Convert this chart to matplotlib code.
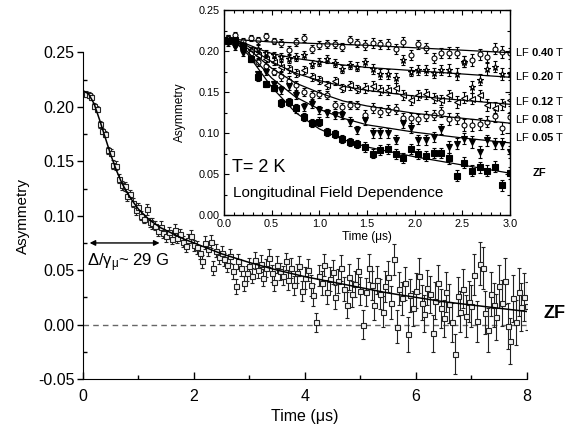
#!/usr/bin/env python3
"""Zero-field muSR asymmetry with an inset of the longitudinal field dependence at T = 2 K."""

import numpy as np
import matplotlib
matplotlib.use("Agg")
import matplotlib.pyplot as plt
from matplotlib.ticker import MultipleLocator, FormatStrFormatter

# ---- main panel: ZF asymmetry, one point every 0.05 us ----
zf_time = np.round(np.arange(1, 161) * 0.05, 2)
zf_asym = [
    0.212, 0.211, 0.209, 0.201, 0.198, 0.184, 0.178, 0.175, 0.160, 0.158,
    0.147, 0.146, 0.134, 0.128, 0.127, 0.118, 0.120, 0.112, 0.105, 0.108,
    0.100, 0.097, 0.106, 0.094, 0.093, 0.091, 0.086, 0.090, 0.084, 0.081,
    0.085, 0.079, 0.087, 0.080, 0.083, 0.076, 0.072, 0.078, 0.081, 0.073,
    0.071, 0.066, 0.058, 0.075, 0.069, 0.076, 0.052, 0.068, 0.062, 0.066,
    0.060, 0.055, 0.063, 0.049, 0.035, 0.058, 0.052, 0.038, 0.047, 0.054,
    0.045, 0.059, 0.050, 0.056, 0.043, 0.052, 0.061, 0.047, 0.039, 0.055,
    0.049, 0.045, 0.058, 0.041, 0.052, 0.036, 0.047, 0.054, 0.031, 0.043,
    0.050, 0.036, 0.027, 0.002, 0.045, 0.038, 0.055, 0.030, 0.042, 0.048,
    0.025, 0.040, 0.052, 0.033, 0.018, 0.044, 0.028, 0.037, 0.049, 0.031,
    0.000, 0.030, 0.052, 0.036, 0.018, 0.041, 0.028, 0.012, 0.035, 0.044,
    0.020, 0.060, -0.002, 0.033, 0.024, 0.038, -0.009, 0.027, 0.015, 0.031,
    0.045, 0.020, 0.010, 0.034, 0.028, -0.008, 0.022, 0.038, 0.015, 0.006,
    0.030, 0.019, 0.002, -0.027, 0.026, 0.012, 0.033, 0.008, 0.021, 0.017,
    0.046, 0.003, 0.056, 0.052, 0.011, -0.005, 0.028, 0.018, 0.007, 0.035,
    0.020, 0.040, -0.001, -0.015, 0.024, 0.002, 0.030, 0.016, 0.025, 0.017,
]
zf_err = [
    0.003, 0.003, 0.003, 0.003, 0.003, 0.003, 0.003, 0.003, 0.003, 0.003,
    0.004, 0.004, 0.004, 0.004, 0.004, 0.004, 0.004, 0.004, 0.004, 0.004,
    0.004, 0.004, 0.005, 0.004, 0.005, 0.004, 0.005, 0.005, 0.004, 0.005,
    0.005, 0.005, 0.005, 0.005, 0.005, 0.005, 0.005, 0.005, 0.006, 0.005,
    0.006, 0.006, 0.006, 0.006, 0.006, 0.006, 0.006, 0.006, 0.006, 0.006,
    0.006, 0.007, 0.006, 0.007, 0.007, 0.007, 0.007, 0.007, 0.007, 0.007,
    0.007, 0.008, 0.007, 0.008, 0.008, 0.008, 0.008, 0.008, 0.008, 0.008,
    0.008, 0.009, 0.008, 0.009, 0.009, 0.009, 0.009, 0.009, 0.009, 0.010,
    0.010, 0.010, 0.010, 0.009, 0.010, 0.011, 0.010, 0.011, 0.011, 0.011,
    0.011, 0.011, 0.012, 0.011, 0.012, 0.012, 0.012, 0.012, 0.012, 0.013,
    0.013, 0.013, 0.013, 0.013, 0.014, 0.013, 0.014, 0.014, 0.014, 0.014,
    0.015, 0.014, 0.015, 0.015, 0.015, 0.015, 0.016, 0.015, 0.016, 0.016,
    0.016, 0.016, 0.017, 0.016, 0.017, 0.017, 0.017, 0.017, 0.018, 0.017,
    0.018, 0.018, 0.018, 0.018, 0.018, 0.019, 0.018, 0.019, 0.019, 0.019,
    0.019, 0.019, 0.020, 0.019, 0.020, 0.020, 0.020, 0.020, 0.021, 0.020,
    0.021, 0.021, 0.021, 0.021, 0.022, 0.021, 0.022, 0.022, 0.022, 0.022,
]
zf_fit_time = [0.0, 0.1, 0.2, 0.3, 0.4, 0.5, 0.6, 0.7, 0.8, 0.9, 1.0, 1.2, 1.4, 1.6,
               1.8, 2.0, 2.5, 3.0, 3.5, 4.0, 4.5, 5.0, 5.5, 6.0, 6.5, 7.0, 7.5, 8.0]
zf_fit_asym = [0.215, 0.212, 0.203, 0.188, 0.172, 0.156, 0.142, 0.130, 0.121, 0.113,
               0.106, 0.096, 0.089, 0.084, 0.079, 0.075, 0.065, 0.057, 0.050, 0.044,
               0.039, 0.034, 0.029, 0.025, 0.021, 0.018, 0.015, 0.012]

# ---- inset: LF dependence, one point every 0.08 us ----
lf_time = np.round(0.04 + np.arange(38) * 0.08, 2)
lf_labels = ["0.40", "0.20", "0.12", "0.08", "0.05", "ZF"]
lf_040 = [0.216, 0.219, 0.212, 0.216, 0.213, 0.218, 0.212, 0.210, 0.201, 0.211,
          0.216, 0.202, 0.207, 0.209, 0.209, 0.205, 0.213, 0.210, 0.207, 0.210,
          0.208, 0.209, 0.202, 0.211, 0.195, 0.208, 0.204, 0.191, 0.198, 0.198,
          0.198, 0.187, 0.189, 0.196, 0.193, 0.203, 0.199, 0.197]
lf_020 = [0.216, 0.212, 0.208, 0.201, 0.203, 0.197, 0.195, 0.193, 0.190, 0.193,
          0.195, 0.184, 0.187, 0.190, 0.185, 0.178, 0.183, 0.181, 0.186, 0.178,
          0.172, 0.172, 0.167, 0.189, 0.175, 0.177, 0.177, 0.173, 0.177, 0.177,
          0.172, 0.187, 0.156, 0.165, 0.178, 0.181, 0.172, 0.172]
lf_012 = [0.213, 0.211, 0.206, 0.201, 0.195, 0.190, 0.187, 0.181, 0.178, 0.173,
          0.177, 0.168, 0.165, 0.159, 0.163, 0.155, 0.158, 0.154, 0.155, 0.157,
          0.152, 0.152, 0.155, 0.146, 0.140, 0.146, 0.148, 0.143, 0.140, 0.146,
          0.138, 0.143, 0.142, 0.146, 0.134, 0.131, 0.135, 0.140]
lf_008 = [0.214, 0.209, 0.204, 0.197, 0.186, 0.182, 0.175, 0.169, 0.164, 0.158,
          0.150, 0.146, 0.148, 0.146, 0.134, 0.132, 0.134, 0.134, 0.122, 0.130,
          0.126, 0.128, 0.129, 0.118, 0.118, 0.117, 0.121, 0.122, 0.126, 0.117,
          0.118, 0.110, 0.110, 0.111, 0.114, 0.121, 0.106, 0.119]
lf_005 = [0.210, 0.205, 0.198, 0.190, 0.172, 0.175, 0.160, 0.152, 0.157, 0.146,
          0.132, 0.135, 0.128, 0.124, 0.122, 0.122, 0.114, 0.104, 0.116, 0.100,
          0.100, 0.100, 0.092, 0.112, 0.106, 0.091, 0.091, 0.095, 0.105, 0.083,
          0.087, 0.093, 0.089, 0.077, 0.091, 0.087, 0.087, 0.077]
lf_zf = [0.212, 0.214, 0.206, 0.190, 0.168, 0.160, 0.155, 0.137, 0.138, 0.130,
         0.120, 0.112, 0.114, 0.101, 0.099, 0.093, 0.089, 0.087, 0.083, 0.075,
         0.079, 0.081, 0.074, 0.070, 0.080, 0.074, 0.072, 0.076, 0.076, 0.069,
         0.048, 0.064, 0.054, 0.058, 0.054, 0.059, 0.036, 0.051]
lf_err = [0.004, 0.004, 0.004, 0.004, 0.004, 0.004, 0.004, 0.005, 0.005, 0.005,
          0.005, 0.005, 0.005, 0.005, 0.005, 0.005, 0.005, 0.005, 0.006, 0.006,
          0.006, 0.006, 0.006, 0.006, 0.006, 0.006, 0.006, 0.006, 0.006, 0.007,
          0.007, 0.007, 0.007, 0.007, 0.007, 0.007, 0.007, 0.007]

lf_fit_time = [0.0, 0.125, 0.25, 0.375, 0.5, 0.75, 1.0, 1.25, 1.5, 2.0, 2.5, 3.0]
lf_fit = [
    [0.215, 0.214, 0.213, 0.212, 0.211, 0.210, 0.209, 0.208, 0.207, 0.204, 0.201, 0.198],
    [0.215, 0.213, 0.208, 0.202, 0.197, 0.191, 0.187, 0.183, 0.180, 0.176, 0.172, 0.168],
    [0.215, 0.213, 0.206, 0.196, 0.187, 0.173, 0.164, 0.157, 0.152, 0.145, 0.140, 0.135],
    [0.215, 0.212, 0.203, 0.191, 0.179, 0.161, 0.149, 0.139, 0.133, 0.124, 0.118, 0.112],
    [0.215, 0.211, 0.199, 0.183, 0.167, 0.144, 0.129, 0.118, 0.110, 0.101, 0.094, 0.088],
    [0.215, 0.210, 0.196, 0.176, 0.156, 0.125, 0.105, 0.092, 0.083, 0.071, 0.061, 0.051],
]

plt.rcParams["font.family"] = ["Liberation Sans", "DejaVu Sans"]
plt.rcParams["mathtext.fontset"] = "custom"
plt.rcParams["mathtext.rm"] = "Liberation Sans"
plt.rcParams["mathtext.it"] = "Liberation Sans"
plt.rcParams["mathtext.bf"] = "Liberation Sans:bold"
plt.rcParams["axes.unicode_minus"] = False


def main() -> None:
    fig = plt.figure(figsize=(5.77, 4.32), dpi=100)

    # main panel
    ax = fig.add_axes([0.1438, 0.1227, 0.7695, 0.7558])
    ax.axhline(0.0, color="#666666", lw=1.0, ls=(0, (4, 3)), zorder=1)
    ax.errorbar(zf_time, zf_asym, yerr=zf_err, fmt="s", ms=3.6, mfc="#f2f2f2", mec="#222222",
                mew=0.8, ecolor="#222222", elinewidth=0.8, capsize=1.5, capthick=0.8, zorder=2)
    ax.plot(zf_fit_time, zf_fit_asym, color="black", lw=1.1, zorder=3)

    ax.set_xlim(0, 8)
    ax.set_ylim(-0.05, 0.25)
    ax.spines["top"].set_visible(False)
    ax.spines["right"].set_visible(False)
    ax.xaxis.set_major_locator(MultipleLocator(2))
    ax.xaxis.set_minor_locator(MultipleLocator(1))
    ax.yaxis.set_major_locator(MultipleLocator(0.05))
    ax.yaxis.set_minor_locator(MultipleLocator(0.025))
    ax.yaxis.set_major_formatter(FormatStrFormatter("%.2f"))
    ax.tick_params(axis="x", which="major", direction="in", length=5, width=1, pad=7, labelsize=11.5)
    ax.tick_params(axis="x", which="minor", direction="in", length=3, width=1)
    ax.tick_params(axis="y", which="major", direction="out", length=4, width=1, pad=2, labelsize=11.5)
    ax.tick_params(axis="y", which="minor", direction="in", length=3, width=1)
    ax.set_xlabel("Time (\u03bcs)", fontsize=11.5, labelpad=4)
    ax.set_ylabel("Asymmetry", fontsize=11, labelpad=6)

    ax.annotate("", xy=(0.12, 0.075), xytext=(1.38, 0.075),
                arrowprops=dict(arrowstyle="<|-|>", color="black", lw=1.0,
                                mutation_scale=8, shrinkA=0, shrinkB=0))
    ax.text(0.07, 0.0535, r"$\Delta/\gamma_\mu$~ 29 G", fontsize=12, ha="left", va="baseline")
    fig.text(543 / 577, 1 - 313 / 432, "ZF", fontsize=13, fontweight="bold", ha="left", va="center")

    # inset
    axi = fig.add_axes([0.3882, 0.5023, 0.4957, 0.4745])
    markers = [
        dict(marker="o", mfc="white", ms=3.6),
        dict(marker="*", mfc="white", ms=5),
        dict(marker="<", mfc="white", ms=3.8),
        dict(marker="o", mfc="white", ms=3.6),
        dict(marker="v", mfc="black", ms=4.2),
        dict(marker="s", mfc="black", ms=3.8),
    ]
    series = [lf_040, lf_020, lf_012, lf_008, lf_005, lf_zf]
    for vals, fit, mk in zip(series, lf_fit, markers):
        axi.errorbar(lf_time, vals, yerr=lf_err, ls="none", mec="black", mew=0.8,
                     ecolor="black", elinewidth=0.8, capsize=1.5, capthick=0.8, zorder=2, **mk)
        axi.plot(lf_fit_time, fit, color="black", lw=0.9, zorder=3)

    axi.set_xlim(0, 3.0)
    axi.set_ylim(0, 0.25)
    axi.xaxis.set_major_locator(MultipleLocator(0.5))
    axi.xaxis.set_minor_locator(MultipleLocator(0.1))
    axi.yaxis.set_major_locator(MultipleLocator(0.05))
    axi.yaxis.set_minor_locator(MultipleLocator(0.025))
    axi.xaxis.set_major_formatter(FormatStrFormatter("%.1f"))
    axi.yaxis.set_major_formatter(FormatStrFormatter("%.2f"))
    axi.tick_params(which="both", direction="in", top=True, right=True, width=0.8)
    axi.tick_params(which="major", length=3.5, labelsize=7.8, pad=3)
    axi.tick_params(which="minor", length=2)
    for sp in axi.spines.values():
        sp.set_linewidth(1.0)
    axi.set_xlabel("Time (\u03bcs)", fontsize=8.6, labelpad=1)
    axi.set_ylabel("Asymmetry", fontsize=8.6, labelpad=9)
    axi.text(0.08, 0.052, "T= 2 K", fontsize=13, ha="left", va="baseline",
             transform=axi.transData)
    axi.text(0.09, 0.022, "Longitudinal Field Dependence", fontsize=11, ha="left",
             va="baseline", transform=axi.transData)

    # field labels right of the inset
    label_y = [52, 76, 101, 119, 137]
    for lab, y in zip(lf_labels[:5], label_y):
        fig.text(515 / 577, 1 - y / 432, "LF $\\mathbf{%s}$ T" % lab, fontsize=8,
                 ha="left", va="center")
    fig.text(533 / 577, 1 - 173 / 432, "ZF", fontsize=8, fontweight="bold",
             ha="left", va="center")

    fig.savefig("out.png", dpi=100)
    plt.close(fig)


if __name__ == "__main__":
    main()
